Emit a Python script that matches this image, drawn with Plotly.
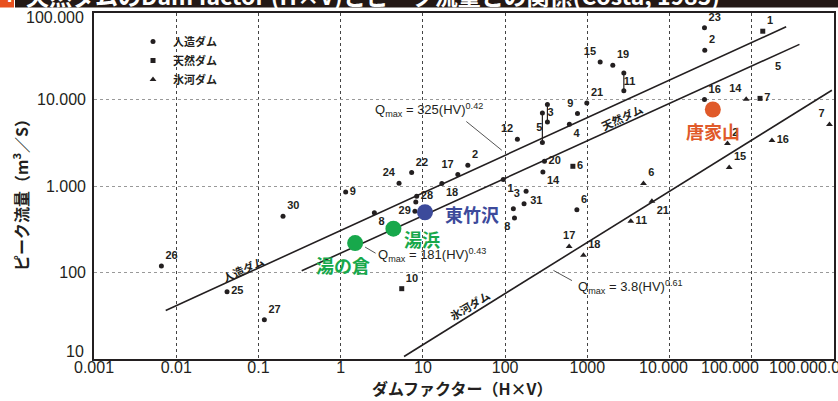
import numpy as np
import plotly.graph_objects as go

# ---------------- data ----------------
# 人造ダム (circles)
man_labels = ["26", "25", "27", "30", "9", "24", "22", "8", "29", "28", "", "17", "2", "18", "12",
              "9", "4", "21", "20", "14", "1", "31", "3", "8", "", "6", "23", "2", "15", "19", "16"]
man_x = [0.0066, 0.0415, 0.118, 0.199, 1.15, 5.13, 7.3, 2.57, 8.0, 8.4, 8.2, 26.6, 35.2, 17.0, 141,
         759, 605, 985, 301, 288, 95, 180, 170, 130, 126, 746, 26600, 26800, 1432, 2040, 26600]
man_y = [119, 60, 28.5, 446, 853, 1074, 1429, 492, 509, 760, 653, 1355, 1738, 1067, 3467,
         6890, 5180, 9140, 1933, 1452, 1186, 869, 625, 426, 547, 533, 67400, 37200, 27200, 24900, 10000]
man_pos = ["top right", "middle right", "top right", "top right", "middle right", "top left", "top right",
           "bottom right", "middle left", "middle right", "top right", "top left", "top right", "bottom right",
           "top left", "top left", "bottom right", "top right", "middle right", "bottom right", "bottom right",
           "bottom right", "top left", "bottom left", "top right", "top right", "top right", "top right",
           "top left", "top right", "top right"]

# 人造ダム shown as ranges (vertical bars)
rng_labels = ["5", "3", "11"]
rng_x = [284, 327, 2780]
rng_top = [7000, 8750, 20300]
rng_bot = [3175, 5510, 12600]
rng_pos = ["middle left", "middle right", "middle right"]

# 天然ダム (squares)
nat_labels = ["1", "7", "10", "6"]
nat_x = [136000, 126000, 5.53, 667]
nat_y = [61600, 10300, 65, 1690]
nat_pos = ["top right", "middle right", "top right", "middle right"]

# label without visible marker
free_labels = ["5"]
free_x = [209000]
free_y = [23800]

# 氷河ダム (triangles)
gla_labels = ["14", "7", "16", "2", "15", "6", "21", "11", "17", "18"]
gla_x = [85500, 881000, 176000, 50600, 53100, 4820, 6100, 3380, 601, 897]
gla_y = [10070, 5140, 3350, 3100, 1633, 1067, 665, 390, 200, 158]
gla_pos = ["top left", "top left", "middle right", "top right", "top right", "top right",
           "bottom right", "middle right", "top center", "top right"]

# regression lines (end points)
line_names = ["人造ダム", "天然ダム", "氷河ダム"]
line_x0 = [0.00745, 0.336, 5.9]
line_y0 = [36.4, 104.5, 10.7]
line_x1 = [262000, 380000, 942000]
line_y1 = [69200, 43400, 12800]
line_lab_x = [0.065, 2650, 37.5]
line_lab_y = [111, 6240, 41.6]
line_lab_angle = [-24.5, -24.5, -31]

eq_texts = ["Q<sub>max</sub> = 325(HV)<sup>0.42</sup>",
            "Q<sub>max</sub> = 181(HV)<sup>0.43</sup>",
            "Q<sub>max</sub> = 3.8(HV)<sup>0.61</sup>"]
eq_x = [10 ** 0.394, 10 ** 0.431, 10 ** 2.86]
eq_y = [10 ** 3.876, 10 ** 2.198, 10 ** 1.828]
eq_head_x = [10 ** 1.960, 10 ** 0.297, 10 ** 2.588]
eq_head_y = [10 ** 3.413, 10 ** 2.294, 10 ** 2.024]
eq_ax = [-37, 12, 20]
eq_ay = [-30, 7, 11]

# highlighted sites
hl_names = ["東竹沢", "湯浜", "湯の倉", "唐家山"]
hl_x = [10.6, 4.38, 1.50, 33600]
hl_y = [497, 321, 219, 7660]
hl_colors = ["#3c4a9b", "#17a84b", "#17a84b", "#e05a2a"]
hl_lab_x = [39.7, 9.77, 1.07, 33900]
hl_lab_y = [470, 241, 121, 4300]

x_tickvals = [0.001, 0.01, 0.1, 1, 10, 100, 1000, 10000, 100000, 1000000]
x_ticktext = ["0.001", "0.01", "0.1", "1", "10", "100", "1000", "10.000", "100.000", "100.000.000"]
y_tickvals = [10, 100, 1000, 10000, 100000]
y_ticktext = ["10", "100", "1.000", "10.000", "100.000"]

INK = "#231f20"
LAB_FONT = dict(family="Liberation Sans", size=11, color=INK, weight="bold")
JP = "Noto Sans CJK JP"
TICK_FONT = dict(family="Liberation Sans", size=16, color=INK)


def px_x(px):
    return (px - 94) / 740


def px_y(py):
    return (359 - py) / 346


fig = go.Figure()

# regression lines
for i in range(len(line_names)):
    fig.add_trace(go.Scatter(x=[line_x0[i], line_x1[i]], y=[line_y0[i], line_y1[i]], mode="lines",
                             line=dict(color=INK, width=1.6), showlegend=False, hoverinfo="skip"))

# man-made dams
fig.add_trace(go.Scatter(x=man_x, y=man_y, mode="markers+text", name="人造ダム",
                         marker=dict(symbol="circle", size=5, color=INK),
                         text=man_labels, textposition=man_pos, textfont=LAB_FONT))
for i in range(len(rng_labels)):
    fig.add_trace(go.Scatter(x=[rng_x[i], rng_x[i]], y=[rng_top[i], rng_bot[i]], mode="lines+markers",
                             marker=dict(symbol="circle", size=5, color=INK),
                             line=dict(color=INK, width=1.2), showlegend=False))
fig.add_trace(go.Scatter(x=rng_x, y=list(np.sqrt(np.array(rng_top) * np.array(rng_bot))), mode="text",
                         text=rng_labels, textposition=rng_pos, textfont=LAB_FONT, showlegend=False))

# natural dams
fig.add_trace(go.Scatter(x=nat_x, y=nat_y, mode="markers+text", name="天然ダム",
                         marker=dict(symbol="square", size=5, color=INK),
                         text=nat_labels, textposition=nat_pos, textfont=LAB_FONT))
fig.add_trace(go.Scatter(x=free_x, y=free_y, mode="text", text=free_labels,
                         textfont=LAB_FONT, showlegend=False))

# glacial dams
fig.add_trace(go.Scatter(x=gla_x, y=gla_y, mode="markers+text", name="氷河ダム",
                         marker=dict(symbol="triangle-up", size=6, color=INK),
                         text=gla_labels, textposition=gla_pos, textfont=LAB_FONT))

# highlighted sites
for i in range(len(hl_names)):
    fig.add_trace(go.Scatter(x=[hl_x[i]], y=[hl_y[i]], mode="markers",
                             marker=dict(symbol="circle", size=16, color=hl_colors[i]),
                             showlegend=False))
    fig.add_annotation(x=np.log10(hl_lab_x[i]), y=np.log10(hl_lab_y[i]), text=hl_names[i],
                       showarrow=False, xanchor="center", yanchor="middle",
                       font=dict(family=JP, size=18, color=hl_colors[i], weight="bold"))

# line labels
for i in range(len(line_names)):
    fig.add_annotation(x=np.log10(line_lab_x[i]), y=np.log10(line_lab_y[i]), text=line_names[i],
                       textangle=line_lab_angle[i], showarrow=False, xanchor="center", yanchor="middle",
                       font=dict(family=JP, size=11, color=INK, weight="bold"))

# equations with leader lines
for i in range(len(eq_texts)):
    fig.add_annotation(x=np.log10(eq_x[i]), y=np.log10(eq_y[i]), text=eq_texts[i],
                       xanchor="left", yanchor="middle",
                       showarrow=False, font=dict(family="Liberation Sans", size=13, color=INK))
    fig.add_annotation(x=np.log10(eq_head_x[i]), y=np.log10(eq_head_y[i]), text="",
                       showarrow=True, arrowhead=0, arrowwidth=1, arrowcolor="#555555",
                       ax=eq_ax[i], ay=eq_ay[i], standoff=0, startstandoff=0)

# outermost y tick labels sit inside the frame in the reference
y_tick_shown = [t if 0 < k < len(y_ticktext) - 1 else "" for k, t in enumerate(y_ticktext)]
for val, txt, shift in [(y_tickvals[0], y_ticktext[0], 8), (y_tickvals[-1], y_ticktext[-1], -4)]:
    fig.add_annotation(xref="paper", x=px_x(86), y=np.log10(val), yshift=shift, text=txt,
                       xanchor="right", yanchor="middle", showarrow=False, font=TICK_FONT)

# the last three x tick labels drift left in the reference (last one cut by the page edge)
x_tick_shown = x_ticktext[:-3] + ["", "", ""]
for txt, pxpos, anchor in [(x_ticktext[-3], 663, "center"), (x_ticktext[-2], 730, "center"),
                           (x_ticktext[-1], 767, "left")]:
    fig.add_annotation(xref="paper", yref="paper", x=px_x(pxpos), y=px_y(368), text=txt,
                       xanchor=anchor, yanchor="middle", showarrow=False, font=TICK_FONT)

# axis titles
fig.add_annotation(xref="paper", yref="paper", x=px_x(462), y=px_y(388), xanchor="center", yanchor="middle",
                   text="ダムファクター（H×V）", showarrow=False,
                   font=dict(family=JP, size=16, color=INK, weight="bold"))
fig.add_annotation(xref="paper", yref="paper", x=px_x(20), y=px_y(191), xanchor="center", yanchor="middle",
                   text="ピーク流量（m<sup>3</sup>／S）", textangle=-90, showarrow=False,
                   font=dict(family=JP, size=16, color=INK, weight="bold"))

# header bar (cut off at top)
fig.add_shape(type="rect", xref="paper", yref="paper", x0=px_x(15), x1=px_x(850),
              y0=px_y(7.5), y1=px_y(-60), fillcolor="#231815", line_width=0, layer="above")
fig.add_shape(type="rect", xref="paper", yref="paper", x0=px_x(-10), x1=px_x(14),
              y0=px_y(7.5), y1=px_y(-60), fillcolor="#e8501f", line_width=0, layer="above")
fig.add_annotation(xref="paper", yref="paper", x=px_x(7), y=px_y(-5), text="4",
                   xanchor="center", yanchor="middle",
                   showarrow=False, font=dict(family="Liberation Sans", size=22, color="white", weight="bold"))
fig.add_annotation(xref="paper", yref="paper", x=px_x(24), y=px_y(-5), xanchor="left", yanchor="middle",
                   text="天然ダムのDam factor (H×V)とピーク流量との関係(Costa, 1985)", showarrow=False,
                   font=dict(family=JP, size=23, color="white", weight="bold"))

fig.update_layout(
    width=838, height=401, autosize=False,
    margin=dict(l=94, r=4, t=13, b=42, autoexpand=False),
    paper_bgcolor="white", plot_bgcolor="white",
    showlegend=True,
    legend=dict(x=px_x(133), y=px_y(27), xanchor="left", yanchor="top",
                bgcolor="rgba(0,0,0,0)", font=dict(family=JP, size=11, color=INK, weight="bold"),
                itemwidth=30, tracegroupgap=0),
)
fig.update_xaxes(type="log", range=[-3, 6], tickvals=x_tickvals, ticktext=x_tick_shown,
                 showgrid=True, gridcolor="#444444", griddash="dot", gridwidth=1,
                 showline=True, linecolor=INK, linewidth=1.6, mirror=True, ticks="",
                 zeroline=False, ticklabelstandoff=-7,
                 automargin=False, tickfont=TICK_FONT)
fig.update_yaxes(type="log", range=[1, 5], tickvals=y_tickvals, ticktext=y_tick_shown,
                 showgrid=True, gridcolor="#999999", griddash="dot", gridwidth=1,
                 showline=True, linecolor=INK, linewidth=1.6, mirror=True, ticks="",
                 zeroline=False, ticklabelstandoff=3, automargin=False, tickfont=TICK_FONT)

fig.write_html("out.html", config={"displayModeBar": False},
               post_script="document.body.style.margin='0';")
